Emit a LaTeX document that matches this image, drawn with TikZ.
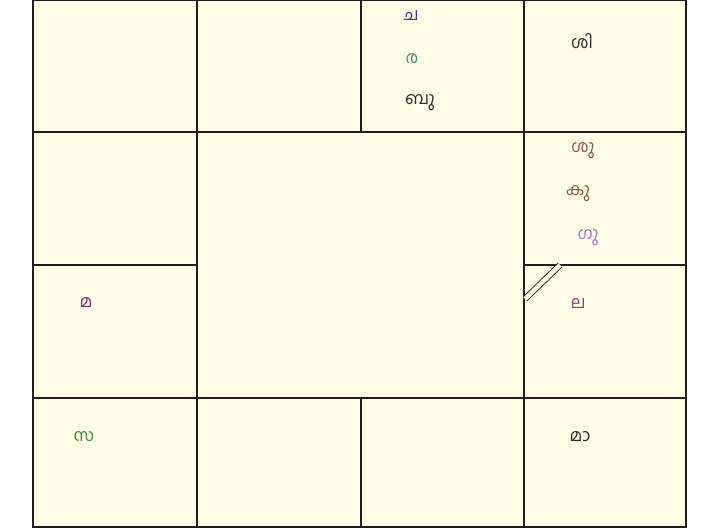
\documentclass[tikz,border=0pt]{standalone}
\usepackage{fontspec}
\newfontfamily\mlfont[Script=Malayalam]{Hind Kochi}
\usepackage{xcolor}
\definecolor{ChartBg}{HTML}{FEFEE8}
\definecolor{GridLine}{HTML}{1E1E1E}
\definecolor{GrahaBlue}{HTML}{3B3F9A}
\definecolor{GrahaTeal}{HTML}{4D8A88}
\definecolor{GrahaDark}{HTML}{2A2A2A}
\definecolor{GrahaBrown}{HTML}{8A5A44}
\definecolor{GrahaViolet}{HTML}{B868C8}
\definecolor{GrahaPurple}{HTML}{8A3C86}
\definecolor{GrahaPlum}{HTML}{7A2A6A}
\definecolor{GrahaGreen}{HTML}{3C8A3C}
\tikzset{
  gridline/.style={draw=GridLine,line width=1.6pt},
  graha/.style={font=\mlfont\fontsize{17}{19}\selectfont,inner sep=0pt,anchor=center},
  lagnamark/.style={draw=GridLine,double=ChartBg,double distance=4.5pt,line width=0.9pt}
}
\begin{document}
\begin{tikzpicture}[x=1pt,y=-1pt]
\useasboundingbox (0,0) rectangle (711,529);
\fill[white] (0,0) rectangle (711,529);
\fill[ChartBg] (33,0) rectangle (686,527);
% rasi grid
\draw[gridline] (33,0) rectangle (686,527);
\draw[gridline] (33,132) -- (686,132);
\draw[gridline] (33,398) -- (686,398);
\draw[gridline] (33,265) -- (197,265);
\draw[gridline] (524,265) -- (686,265);
\draw[gridline] (197,0) -- (197,527);
\draw[gridline] (524,0) -- (524,527);
\draw[gridline] (361,0) -- (361,132);
\draw[gridline] (361,398) -- (361,527);
% lagna mark
\coordinate (lagnaA) at (525,299);
\coordinate (lagnaB) at (560,265);
\draw[lagnamark] (lagnaA) -- (lagnaB);
% grahas
\node[graha,text=GrahaBlue] (chandra) at (411,16) {ച};
\node[graha,text=GrahaTeal] (rahu) at (412,59) {ര};
\node[graha,text=GrahaDark] (budha) at (420,103) {ബു};
\node[graha,text=GrahaDark] (sani) at (582,41) {ശി};
\node[graha,text=GrahaBrown] (sukra) at (583,151) {ശു};
\node[graha,text=GrahaBrown] (kuja) at (578,194) {കു};
\node[graha,text=GrahaViolet] (guru) at (588,238) {ഗു};
\node[graha,text=GrahaPurple] (lagna) at (578,304) {ല};
\node[graha,text=GrahaPlum] (mandi) at (86,303) {മ};
\node[graha,text=GrahaGreen] (surya) at (84,437) {സ};
\node[graha,text=GrahaDark] (maandi) at (580,437) {മാ};
\end{tikzpicture}
\end{document}
